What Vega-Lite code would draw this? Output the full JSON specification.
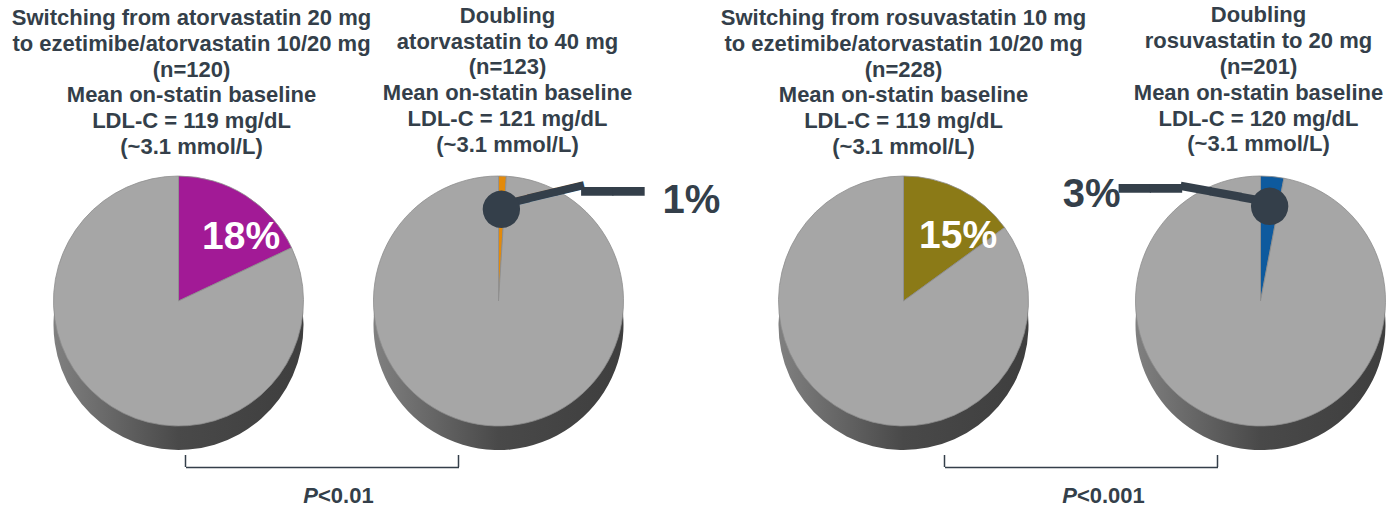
{
  "$schema": "https://vega.github.io/schema/vega-lite/v6.json",
  "background": "white",
  "padding": {"left": 11.5, "top": 4, "right": 0, "bottom": 0},
  "config": {
    "view": {"stroke": null},
    "font": "Liberation Sans",
    "title": {"font": "Liberation Sans", "fontSize": 22, "fontWeight": "bold", "color": "#343F4A", "lineHeight": 25.8, "anchor": "middle", "frame": "group", "offset": 7}
  },
  "spacing": 4,
  "vconcat": [
    {
      "bounds": "flush",
      "spacing": 0,
      "hconcat": [
        {
          "width": 300,
          "height": 270,
          "title": {"text": ["Switching from atorvastatin 20 mg", "to ezetimibe/atorvastatin 10/20 mg", "(n=120)", "Mean on-statin baseline", "LDL-C = 119 mg/dL", "(~3.1 mmol/L)"], "dx": 13},
          "data": {"values": [
            {"group": "Switching from atorvastatin 20 mg", "outcome": "Achieved", "share": 0.18},
            {"group": "Switching from atorvastatin 20 mg", "outcome": "Not achieved", "share": 0.82}
          ]},
          "encoding": {
            "theta": {"field": "share", "type": "quantitative", "stack": true, "scale": {"domain": [0, 1]}},
            "order": {"field": "outcome", "type": "ordinal"}
          },
          "layer": [
            {"mark": {"type": "arc", "radius": 125, "yOffset": 24, "stroke": null, "color": {"gradient": "linear", "stops": [{"offset": 0, "color": "#808080"}, {"offset": 0.5, "color": "#494949"}, {"offset": 1, "color": "#3E3E3E"}]}}},
            {"mark": {"type": "arc", "radius": 125, "stroke": "#8E8E8E", "strokeWidth": 0.8},
             "encoding": {"color": {"condition": {"test": "datum.outcome === 'Achieved'", "value": "#A21A96"}, "value": "#A6A6A6"}}},
            {"mark": {"type": "text", "radius": 85, "dx": 17, "dy": 8, "fontSize": 39, "fontWeight": "bold", "color": "white", "align": "center", "baseline": "middle"},
             "encoding": {"text": {"condition": {"test": "datum.outcome === 'Achieved'", "field": "share", "type": "quantitative", "format": ".0%"}, "value": ""}}}
          ]
        },
        {
          "width": 340,
          "height": 270,
          "title": {"text": ["Doubling", "atorvastatin to 40 mg", "(n=123)", "Mean on-statin baseline", "LDL-C = 121 mg/dL", "(~3.1 mmol/L)"], "dx": 9},
          "data": {"values": [
            {"group": "Doubling atorvastatin to 40 mg", "outcome": "Achieved", "share": 0.01},
            {"group": "Doubling atorvastatin to 40 mg", "outcome": "Not achieved", "share": 0.99}
          ]},
          "encoding": {
            "theta": {"field": "share", "type": "quantitative", "stack": true, "scale": {"domain": [0, 1]}},
            "order": {"field": "outcome", "type": "ordinal"}
          },
          "layer": [
            {"mark": {"type": "arc", "radius": 125, "yOffset": 24, "stroke": null, "color": {"gradient": "linear", "stops": [{"offset": 0, "color": "#808080"}, {"offset": 0.5, "color": "#494949"}, {"offset": 1, "color": "#3E3E3E"}]}}},
            {"mark": {"type": "arc", "radius": 125, "stroke": "#8E8E8E", "strokeWidth": 0.8},
             "encoding": {"color": {"condition": {"test": "datum.outcome === 'Achieved'", "value": "#E38A0A"}, "value": "#A6A6A6"}}},
            {"mark": {"type": "text", "radius": 94, "font": "DejaVu Sans", "fontSize": 47, "angle": 346.5, "align": "left", "baseline": "middle", "color": "#343F4A"},
             "encoding": {"text": {"condition": {"test": "datum.outcome === 'Achieved'", "value": "━━━"}, "value": ""}}},
            {"mark": {"type": "text", "radius": 94, "font": "DejaVu Sans", "fontSize": 52, "align": "left", "baseline": "middle", "dx": 80, "dy": -14, "color": "#343F4A"},
             "encoding": {"text": {"condition": {"test": "datum.outcome === 'Achieved'", "value": "━━"}, "value": ""}}},
            {"mark": {"type": "text", "radius": 94, "font": "DejaVu Sans", "fontSize": 49, "align": "center", "baseline": "middle", "color": "#343F4A"},
             "encoding": {"text": {"condition": {"test": "datum.outcome === 'Achieved'", "value": "●"}, "value": ""}}},
            {"mark": {"type": "text", "radius": 94, "fontSize": 40, "fontWeight": "bold", "align": "center", "baseline": "middle", "dx": 190, "dy": -6, "color": "#343F4A"},
             "encoding": {"text": {"condition": {"test": "datum.outcome === 'Achieved'", "field": "share", "type": "quantitative", "format": ".0%"}, "value": ""}}}
          ]
        },
        {
          "width": 470,
          "height": 270,
          "title": {"text": ["Switching from rosuvastatin 10 mg", "to ezetimibe/atorvastatin 10/20 mg", "(n=228)", "Mean on-statin baseline", "LDL-C = 119 mg/dL", "(~3.1 mmol/L)"], "dx": 0},
          "data": {"values": [
            {"group": "Switching from rosuvastatin 10 mg", "outcome": "Achieved", "share": 0.15},
            {"group": "Switching from rosuvastatin 10 mg", "outcome": "Not achieved", "share": 0.85}
          ]},
          "encoding": {
            "theta": {"field": "share", "type": "quantitative", "stack": true, "scale": {"domain": [0, 1]}},
            "order": {"field": "outcome", "type": "ordinal"}
          },
          "layer": [
            {"mark": {"type": "arc", "radius": 125, "yOffset": 24, "stroke": null, "color": {"gradient": "linear", "stops": [{"offset": 0, "color": "#808080"}, {"offset": 0.5, "color": "#494949"}, {"offset": 1, "color": "#3E3E3E"}]}}},
            {"mark": {"type": "arc", "radius": 125, "stroke": "#8E8E8E", "strokeWidth": 0.8},
             "encoding": {"color": {"condition": {"test": "datum.outcome === 'Achieved'", "value": "#8B7A17"}, "value": "#A6A6A6"}}},
            {"mark": {"type": "text", "radius": 85, "dx": 16, "dy": 11, "fontSize": 39, "fontWeight": "bold", "color": "white", "align": "center", "baseline": "middle"},
             "encoding": {"text": {"condition": {"test": "datum.outcome === 'Achieved'", "field": "share", "type": "quantitative", "format": ".0%"}, "value": ""}}}
          ]
        },
        {
          "width": 244,
          "height": 270,
          "title": {"text": ["Doubling", "rosuvastatin to 20 mg", "(n=201)", "Mean on-statin baseline", "LDL-C = 120 mg/dL", "(~3.1 mmol/L)"], "dx": -2},
          "data": {"values": [
            {"group": "Doubling rosuvastatin to 20 mg", "outcome": "Achieved", "share": 0.03},
            {"group": "Doubling rosuvastatin to 20 mg", "outcome": "Not achieved", "share": 0.97}
          ]},
          "encoding": {
            "theta": {"field": "share", "type": "quantitative", "stack": true, "scale": {"domain": [0, 1]}},
            "order": {"field": "outcome", "type": "ordinal"}
          },
          "layer": [
            {"mark": {"type": "arc", "radius": 125, "yOffset": 24, "stroke": null, "color": {"gradient": "linear", "stops": [{"offset": 0, "color": "#808080"}, {"offset": 0.5, "color": "#494949"}, {"offset": 1, "color": "#3E3E3E"}]}}},
            {"mark": {"type": "arc", "radius": 125, "stroke": "#8E8E8E", "strokeWidth": 0.8},
             "encoding": {"color": {"condition": {"test": "datum.outcome === 'Achieved'", "value": "#0E5A9E"}, "value": "#A6A6A6"}}},
            {"mark": {"type": "text", "radius": 97, "font": "DejaVu Sans", "fontSize": 50, "angle": 10.5, "align": "right", "baseline": "middle", "color": "#343F4A"},
             "encoding": {"text": {"condition": {"test": "datum.outcome === 'Achieved'", "value": "━━━"}, "value": ""}}},
            {"mark": {"type": "text", "radius": 97, "font": "DejaVu Sans", "fontSize": 52, "align": "right", "baseline": "middle", "dx": -88, "dy": -14, "color": "#343F4A"},
             "encoding": {"text": {"condition": {"test": "datum.outcome === 'Achieved'", "value": "━━"}, "value": ""}}},
            {"mark": {"type": "text", "radius": 97, "font": "DejaVu Sans", "fontSize": 49, "align": "center", "baseline": "middle", "color": "#343F4A"},
             "encoding": {"text": {"condition": {"test": "datum.outcome === 'Achieved'", "value": "●"}, "value": ""}}},
            {"mark": {"type": "text", "radius": 97, "fontSize": 40, "fontWeight": "bold", "align": "center", "baseline": "middle", "dx": -178, "dy": -9, "color": "#343F4A"},
             "encoding": {"text": {"condition": {"test": "datum.outcome === 'Achieved'", "field": "share", "type": "quantitative", "format": ".0%"}, "value": ""}}}
          ]
        }
      ]
    },
    {
      "bounds": "flush",
      "spacing": 0,
      "hconcat": [
        {
          "width": 640,
          "height": 12,
          "layer": [
            {
              "data": {"values": [{"group": "Switching from atorvastatin 20 mg"}, {"group": "Doubling atorvastatin to 40 mg"}]},
              "mark": {"type": "rule", "color": "#343F4A", "strokeWidth": 1.5},
              "encoding": {"x": {"field": "group", "type": "nominal", "scale": {"type": "point", "padding": 0, "domain": ["Switching from atorvastatin 20 mg", "Doubling atorvastatin to 40 mg"], "range": [157, 430]}, "axis": {"orient": "bottom", "labels": false, "ticks": false, "title": null, "grid": false, "domain": true, "domainColor": "#343F4A", "domainWidth": 1.5}}}
            },
            {
              "data": {"values": [{"p_value": "<0.01"}]},
              "mark": {"type": "text", "fontSize": 22, "fontWeight": "bold", "fontStyle": "italic", "align": "right", "baseline": "middle", "dx": -30.5, "dy": 35, "color": "#343F4A"},
              "encoding": {"text": {"value": "P"}}
            },
            {
              "data": {"values": [{"p_value": "<0.01"}]},
              "mark": {"type": "text", "fontSize": 22, "fontWeight": "bold", "align": "left", "baseline": "middle", "dx": -30.5, "dy": 35, "color": "#343F4A"},
              "encoding": {"text": {"field": "p_value", "type": "nominal"}}
            }
          ]
        },
        {
          "width": 714,
          "height": 12,
          "layer": [
            {
              "data": {"values": [{"group": "Switching from rosuvastatin 10 mg"}, {"group": "Doubling rosuvastatin to 20 mg"}]},
              "mark": {"type": "rule", "color": "#343F4A", "strokeWidth": 1.5},
              "encoding": {"x": {"field": "group", "type": "nominal", "scale": {"type": "point", "padding": 0, "domain": ["Switching from rosuvastatin 10 mg", "Doubling rosuvastatin to 20 mg"], "range": [276, 549]}, "axis": {"orient": "bottom", "labels": false, "ticks": false, "title": null, "grid": false, "domain": true, "domainColor": "#343F4A", "domainWidth": 1.5}}}
            },
            {
              "data": {"values": [{"p_value": "<0.001"}]},
              "mark": {"type": "text", "fontSize": 22, "fontWeight": "bold", "fontStyle": "italic", "align": "right", "baseline": "middle", "dx": 51.4, "dy": 35, "color": "#343F4A"},
              "encoding": {"text": {"value": "P"}}
            },
            {
              "data": {"values": [{"p_value": "<0.001"}]},
              "mark": {"type": "text", "fontSize": 22, "fontWeight": "bold", "align": "left", "baseline": "middle", "dx": 51.4, "dy": 35, "color": "#343F4A"},
              "encoding": {"text": {"field": "p_value", "type": "nominal"}}
            }
          ]
        }
      ]
    }
  ]
}
